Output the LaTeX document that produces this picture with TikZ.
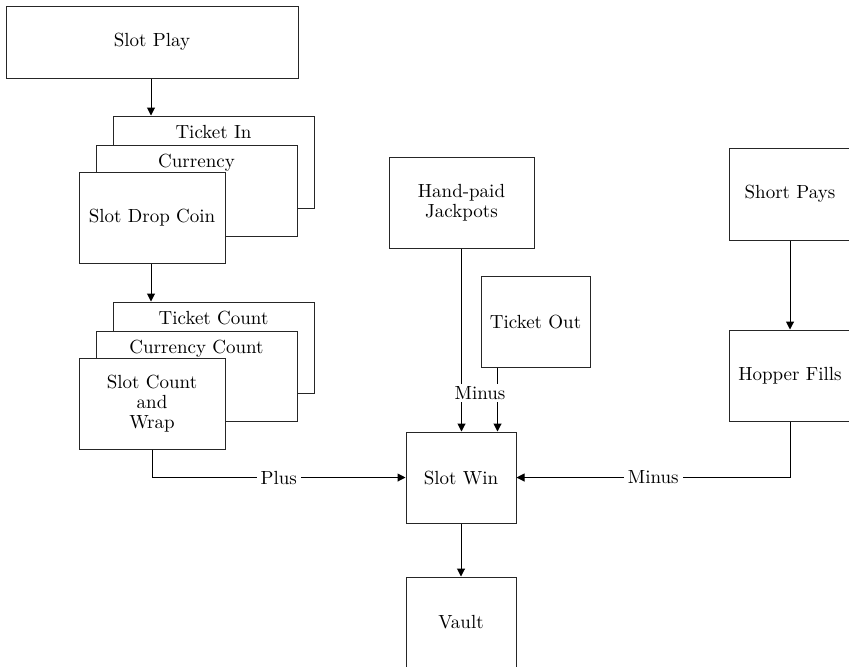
\documentclass[tikz,border=0pt]{standalone}
\usepackage{xcolor}
\usepackage{tikz}
\usetikzlibrary{arrows.meta,positioning,calc}

\begin{document}
\begin{tikzpicture}[
  x=0.5pt, y=-0.5pt,
  box/.style={rectangle, draw=black!85, fill=white, line width=0.5pt, align=center, font=\fontsize{9.5}{10}\selectfont},
  flow/.style={line width=0.5pt, draw=black, -{Triangle[length=4pt, width=4pt]}},
  wire/.style={line width=0.5pt, draw=black},
  tag/.style={fill=white, inner sep=2pt, font=\fontsize{9.5}{10}\selectfont}
]
\useasboundingbox (0,0) rectangle (849,666);
\clip (0,0) rectangle (849,666);

% Drop side
\node[box, minimum width=146pt, minimum height=36pt] (play) at (152,42) {Slot Play};

\node[box, minimum width=100.5pt, minimum height=46pt] (tin) at (213.5,162) {};
\node[below=1.5pt of tin.north, font=\fontsize{9.5}{10}\selectfont] (tinlbl) {Ticket In};
\node[box, minimum width=100.5pt, minimum height=45.5pt] (cur) at (196.5,190.5) {};
\node[below=1.5pt of cur.north, font=\fontsize{9.5}{10}\selectfont] (curlbl) {Currency};
\node[box, minimum width=73pt, minimum height=45.5pt] (drop) at (152,217.5) {Slot Drop Coin};

\node[box, minimum width=100.5pt, minimum height=45.5pt] (tcnt) at (213.5,347.5) {};
\node[below=1.5pt of tcnt.north, font=\fontsize{9.5}{10}\selectfont] (tcntlbl) {Ticket Count};
\node[box, minimum width=100.5pt, minimum height=45pt] (ccnt) at (196.5,376) {};
\node[below=1.5pt of ccnt.north, font=\fontsize{9.5}{10}\selectfont] (ccntlbl) {Currency Count};
\node[box, minimum width=73pt, minimum height=45.5pt] (wrap) at (152,403.5) {Slot Count\\and\\Wrap};

% Win side
\node[box, minimum width=72.5pt, minimum height=45.5pt] (jack) at (461.5,202.5) {Hand-paid\\Jackpots};
\node[box, minimum width=54.5pt, minimum height=45.5pt] (tout) at (535.5,321.5) {Ticket Out};
\node[box, minimum width=55pt, minimum height=45.5pt] (win) at (461,477.5) {Slot Win};
\node[box, minimum width=55pt, minimum height=45.5pt] (vault) at (461,622.5) {Vault};

\node[box, minimum width=61pt, minimum height=46pt] (short) at (790,194) {Short Pays};
\node[box, minimum width=61pt, minimum height=45.5pt] (hopper) at (790,375.5) {Hopper Fills};

% Connectors
\draw[flow] (play.south -| 151,0) -- (tin.north -| 151,0);
\draw[flow] (drop.south -| 151,0) -- (tcnt.north -| 151,0);
\draw[flow] (wrap.south) |- node[tag, pos=0.75] (plus) {Plus} (win.west);

\coordinate (toutdrop) at ($(tout.south west)+(17,0)$);
\draw[flow] (jack.south) -- (jack.south |- win.north);
\draw[flow] (toutdrop) -- (toutdrop |- win.north);
\node[tag, inner sep=1pt] (minusa) at (480,393) {Minus};

\draw[flow] (short.south) -- (hopper.north);
\draw[flow] (hopper.south) |- node[tag, pos=0.75] (minusb) {Minus} (win.east);
\draw[flow] (win.south) -- (vault.north);

\end{tikzpicture}
\end{document}
